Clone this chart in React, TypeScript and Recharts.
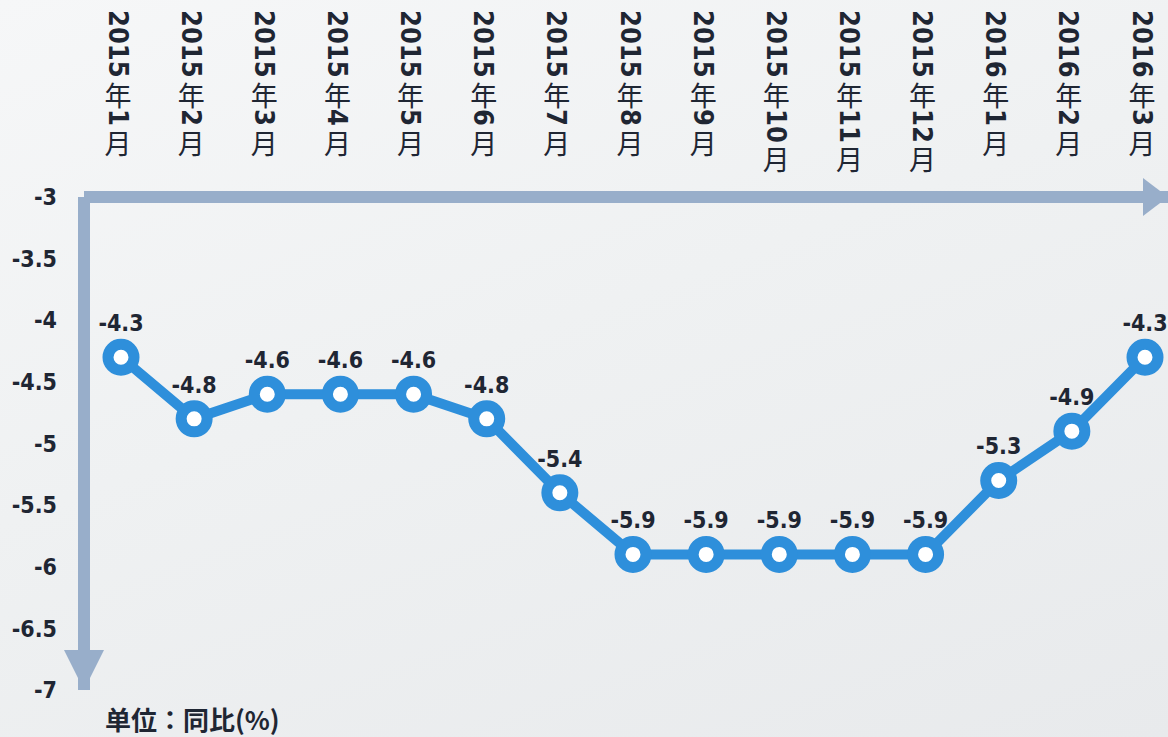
import { LineChart, Line, XAxis, YAxis, LabelList } from 'recharts';

const years = ['2015', '2015', '2015', '2015', '2015', '2015', '2015', '2015', '2015', '2015', '2015', '2015', '2016', '2016', '2016'];
const months = ['1', '2', '3', '4', '5', '6', '7', '8', '9', '10', '11', '12', '1', '2', '3'];
const values = [-4.3, -4.8, -4.6, -4.6, -4.6, -4.8, -5.4, -5.9, -5.9, -5.9, -5.9, -5.9, -5.3, -4.9, -4.3];
const yTicks = [-7, -6.5, -6, -5.5, -5, -4.5, -4, -3.5, -3];

const data = values.map((v, i) => ({ name: `${years[i]}年${months[i]}月`, year: years[i], month: months[i], value: v }));

const NUM_FONT = "'DejaVu Sans', 'Noto Sans CJK SC', sans-serif";
const CJK_FONT = "'Noto Sans CJK SC', sans-serif";
const TEXT = '#1f2633';
const AXIS = '#98aeca';
const LINE = '#2e8fdb';

function MonthTick(props: any) {
  const { x, index } = props;
  const d = data[index];
  if (!d) return null;
  return (
    <text
      x={x - 3}
      y={10}
      fill={TEXT}
      fontSize={27}
      style={{ writingMode: 'vertical-rl', textOrientation: 'mixed' } as any}
      dominantBaseline="central"
    >
      <tspan fontFamily={NUM_FONT} fontWeight="bold" style={{ fontStretch: 'condensed' }}>{d.year}</tspan>
      <tspan fontFamily={CJK_FONT} dy={4}>年</tspan>
      <tspan fontFamily={NUM_FONT} fontWeight="bold" style={{ fontStretch: 'condensed' }}>{d.month}</tspan>
      <tspan fontFamily={CJK_FONT} dy={4}>月</tspan>
    </text>
  );
}

export default function App() {
  return (
    <div
      style={{
        position: 'absolute', left: 0, top: 0, width: 1168, height: 737, overflow: 'hidden',
        background: 'linear-gradient(160deg, #f6f7f8 0%, #eff1f2 45%, #e8eaec 100%)',
      }}
    >
      <svg width={0} height={0} style={{ position: 'absolute' }}>
        <defs>
          <marker id="arrowX" viewBox="0 0 25 38" refX={25} refY={19} markerWidth={25} markerHeight={38} markerUnits="userSpaceOnUse" orient="auto">
            <path d="M0,0 L25,19 L0,38 Z" fill={AXIS} />
          </marker>
          <marker id="arrowY" viewBox="0 0 40 40" refX={40} refY={20} markerWidth={40} markerHeight={40} markerUnits="userSpaceOnUse" orient="auto">
            <path d="M0,0 L40,20 L0,40 Z" fill={AXIS} />
          </marker>
        </defs>
      </svg>
      <LineChart width={1168} height={737} data={data} margin={{ top: 0, right: 0, bottom: 47, left: 0 }}>
        <XAxis
          dataKey="name"
          orientation="top"
          height={197}
          interval={0}
          padding={{ left: 37, right: 23 }}
          tickLine={false}
          tickSize={0}
          axisLine={{ stroke: AXIS, strokeWidth: 12, markerEnd: 'url(#arrowX)' }}
          tick={<MonthTick />}
        />
        <YAxis
          width={84}
          domain={[-7, -3]}
          ticks={yTicks}
          interval={0}
          tickLine={false}
          tickSize={0}
          tickMargin={27}
          axisLine={{ stroke: AXIS, strokeWidth: 12, markerEnd: 'url(#arrowY)' }}
          tick={{ fill: TEXT, fontSize: 23, fontWeight: 'bold', fontFamily: NUM_FONT, style: { fontStretch: 'condensed' } }}
        />
        <Line
          type="linear"
          dataKey="value"
          stroke={LINE}
          strokeWidth={10}
          dot={{ r: 13, stroke: LINE, strokeWidth: 11, fill: '#ffffff' }}
          activeDot={false}
          isAnimationActive={false}
        >
          <LabelList
            dataKey="value"
            position="top"
            offset={26}
            fill={TEXT}
            fontSize={23}
            fontWeight="bold"
            fontFamily={NUM_FONT}
            style={{ fontStretch: 'condensed' }}
          />
        </Line>
      </LineChart>
      <div
        style={{
          position: 'absolute', left: 105, top: 700, fontFamily: "'Noto Sans CJK JP', sans-serif", fontWeight: 'bold',
          fontSize: 26, color: TEXT, whiteSpace: 'nowrap',
        }}
      >
        单位：同比(%)
      </div>
    </div>
  );
}
